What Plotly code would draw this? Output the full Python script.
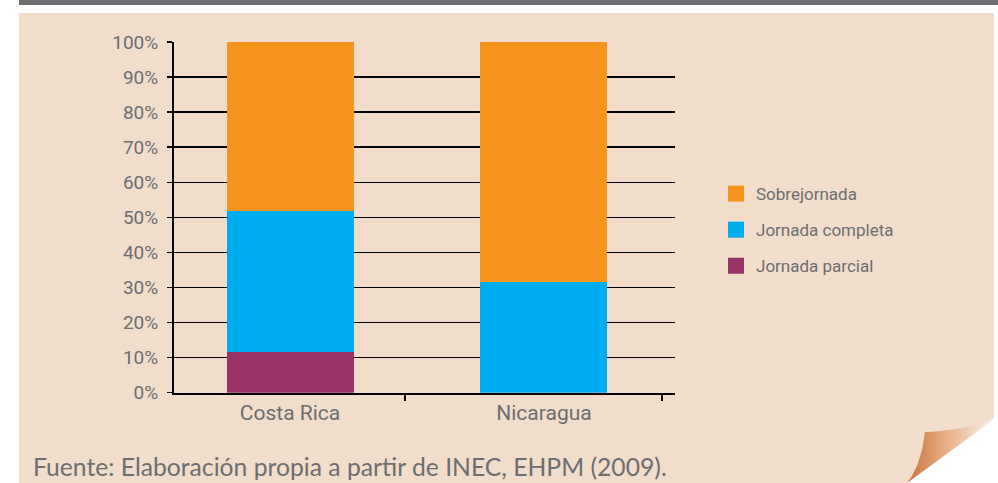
import plotly.graph_objects as go

W, H = 998, 483

countries = ["Costa Rica", "Nicaragua"]
parcial = [11.7, 0.0]
completa = [40.2, 31.7]
sobre = [48.1, 68.3]
y_ticks = [0, 10, 20, 30, 40, 50, 60, 70, 80, 90, 100]
y_labels = [f"{v}%" for v in y_ticks]
series_names = ["Jornada parcial", "Jornada completa", "Sobrejornada"]
series_colors = ["#993366", "#00aeef", "#f7941d"]
source = "Fuente: Elaboración propia a partir de INEC, EHPM (2009)."

GRAY = "#6d6e71"
PEACH = "#f2ddca"
NARROW = "Roboto, sans-serif"


def px(x):
    return x / W


def py(y):
    return 1 - y / H


fig = go.Figure()
for name, vals, col in zip(series_names, [parcial, completa, sobre], series_colors):
    fig.add_trace(go.Bar(x=countries, y=vals, name=name, marker_color=col,
                         marker_line_width=0, width=0.5, showlegend=False,
                         xaxis="x", yaxis="y"))

# legend entries (top to bottom), larger square swatches
for name, col in reversed(list(zip(series_names, series_colors))):
    fig.add_trace(go.Scatter(x=[None], y=[None], mode="markers", name=name,
                             legendgroup=name,
                             marker=dict(symbol="square", size=16, color=col),
                             xaxis="x", yaxis="y"))


def quad(p0, p1, p2, n=20):
    pts = []
    for i in range(n + 1):
        t = i / n
        x = (1 - t) ** 2 * p0[0] + 2 * (1 - t) * t * p1[0] + t ** 2 * p2[0]
        y = (1 - t) ** 2 * p0[1] + 2 * (1 - t) * t * p1[1] + t ** 2 * p2[1]
        pts.append((x, y))
    return pts

# page curl (decoration)
c1 = quad((925, 432), (921, 466), (907, 483))
c2 = [(993, 420)]
c3 = quad((993, 420), (960, 431), (925, 432))
pts = c1 + c2 + c3
fig.add_trace(go.Scatter(
    x=[p[0] for p in pts], y=[p[1] for p in pts], mode="lines",
    line=dict(width=0), fill="toself",
    fillgradient=dict(type="horizontal",
                      colorscale=[[0, "#c8733b"], [0.5, "#e9b48d"], [1, "#fbf1e8"]]),
    showlegend=False, hoverinfo="skip", xaxis="x3", yaxis="y3"))

shapes = [
    dict(type="rect", xref="paper", yref="paper", x0=px(19), x1=px(998), y0=py(0), y1=py(5),
         fillcolor=GRAY, line_width=0, layer="below"),
    dict(type="path", xref="paper", yref="paper",
         path=(f"M{px(19)},{py(13)} L{px(994)},{py(13)} L{px(994)},{py(418)} "
               f"L{px(907)},{py(483)} L{px(19)},{py(483)} Z"),
         fillcolor=PEACH, line_width=0, layer="below"),
]

XR = [-0.457, 1.516]
fig.update_layout(
    width=W, height=H, autosize=False,
    margin=dict(l=0, r=0, t=0, b=0, pad=0, autoexpand=False),
    paper_bgcolor="white", plot_bgcolor="rgba(0,0,0,0)",
    barmode="stack", bargap=0.5,
    shapes=shapes,
    showlegend=True,
    legend=dict(x=px(716), y=py(176), xanchor="left", yanchor="top",
                traceorder="grouped", bgcolor="rgba(0,0,0,0)",
                itemsizing="trace",
                font=dict(family=NARROW, size=17, color=GRAY),
                tracegroupgap=11),
    xaxis=dict(domain=[px(174), px(675)], range=XR, type="category",
               showline=True, linecolor="black", linewidth=2,
               ticks="", showgrid=False, zeroline=False,
               tickfont=dict(family=NARROW, size=21, color=GRAY),
               automargin=False, fixedrange=True),
    xaxis2=dict(overlaying="x", anchor="y", side="bottom", range=XR,
                tickvals=[0.453, 1.465], showticklabels=False,
                ticks="outside", ticklen=7, tickwidth=1.5, tickcolor="black",
                showgrid=False, zeroline=False, showline=False,
                automargin=False, fixedrange=True),
    yaxis=dict(domain=[py(392.7), py(42)], range=[0, 100],
               tickvals=y_ticks, ticktext=y_labels,
               showline=True, linecolor="black", linewidth=2,
               ticks="outside", ticklen=5, tickwidth=1.5, tickcolor="black",
               showgrid=True, gridcolor="black", gridwidth=1.5, zeroline=False,
               tickfont=dict(family=NARROW, size=19, color=GRAY),
               ticklabelstandoff=5, automargin=False, fixedrange=True),
    xaxis3=dict(domain=[0, 1], range=[0, W], visible=False, fixedrange=True,
                anchor="y3", automargin=False),
    yaxis3=dict(domain=[0, 1], range=[H, 0], visible=False, fixedrange=True,
                anchor="x3", automargin=False),
    annotations=[dict(text=source, xref="paper", yref="paper", x=px(31), y=py(466),
                      xanchor="left", yanchor="middle", showarrow=False,
                      font=dict(family="Lato, sans-serif", size=24.7, color=GRAY))],
)

# dummy invisible trace so xaxis2 is drawn
fig.add_trace(go.Scatter(x=[None], y=[None], xaxis="x2", yaxis="y",
                         showlegend=False, hoverinfo="skip"))

fig.write_html("out.html",
               config={"displayModeBar": False, "staticPlot": True},
               post_script="document.body.style.margin='0';document.body.style.padding='0';"
                           "document.documentElement.style.overflow='hidden';")
